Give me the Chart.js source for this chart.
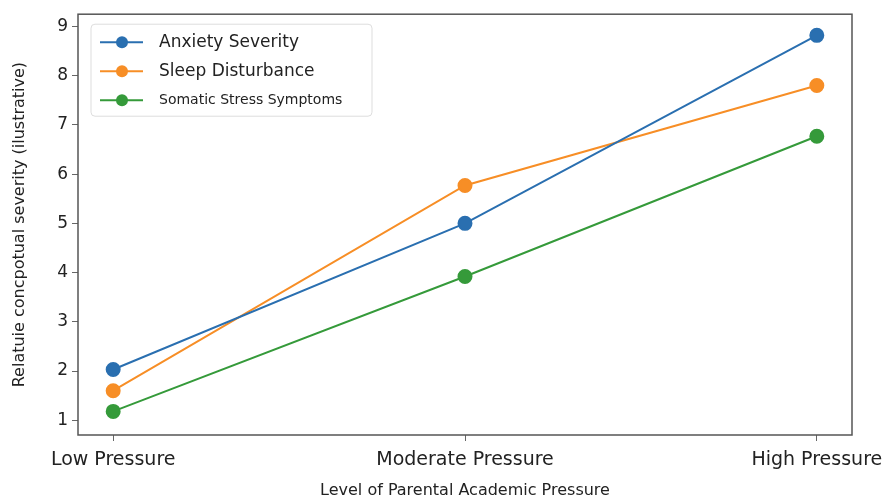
<!DOCTYPE html>
<html lang="en">
<head>
  <meta charset="UTF-8" />
  <title>Parental academic pressure</title>
  <script src="https://cdn.jsdelivr.net/npm/chart.js"></script>
  <style>
    html, body { margin: 0; padding: 0; background: #fff; }
    #wrap { width: 893px; height: 500px; position: relative; }
  </style>
</head>
<body>
  <div id="wrap"><canvas id="chart"></canvas></div>
  <script>
    const categories = ["Low Pressure", "Moderate Pressure", "High Pressure"];
    const anxiety = [2.03, 5.0, 8.82];
    const sleep = [1.6, 5.77, 7.8];
    const somatic = [1.18, 3.92, 6.77];
    const yTicks = [1, 2, 3, 4, 5, 6, 7, 8, 9];

    const colors = ["#2a6fb0", "#f78e26", "#359a3a"];
    const legendFonts = [17, 17, 14];

    Chart.defaults.font.family = "'DejaVu Sans', sans-serif";
    Chart.defaults.color = "#222";

    const toPoints = arr => arr.map((v, i) => ({ x: i, y: v }));

    // frame round the plot, like matplotlib's spines
    const frame = {
      id: "frame",
      afterDraw(chart) {
        const { ctx, chartArea: a } = chart;
        ctx.save();
        ctx.strokeStyle = "#555";
        ctx.lineWidth = 1.5;
        ctx.strokeRect(a.left, a.top, a.right - a.left, a.bottom - a.top);
        ctx.restore();
      }
    };

    // legend drawn inside the plot, upper left
    const innerLegend = {
      id: "innerLegend",
      afterDatasetsDraw(chart) {
        const { ctx, chartArea: a } = chart;
        const x0 = a.left + 13, y0 = a.top + 10;
        const w = 281, h = 92;
        ctx.save();
        ctx.fillStyle = "rgba(255,255,255,0.9)";
        ctx.strokeStyle = "#ddd";
        ctx.lineWidth = 1;
        ctx.beginPath();
        ctx.roundRect(x0, y0, w, h, 4);
        ctx.fill();
        ctx.stroke();
        chart.data.datasets.forEach((ds, i) => {
          const cy = a.top + 28 + i * 29;
          ctx.strokeStyle = ds.borderColor;
          ctx.lineWidth = 2;
          ctx.beginPath();
          ctx.moveTo(x0 + 9, cy);
          ctx.lineTo(x0 + 52, cy);
          ctx.stroke();
          ctx.fillStyle = ds.backgroundColor;
          ctx.beginPath();
          ctx.arc(x0 + 31, cy, 6, 0, Math.PI * 2);
          ctx.fill();
          ctx.fillStyle = "#222";
          ctx.font = legendFonts[i] + "px 'DejaVu Sans', sans-serif";
          ctx.textBaseline = "middle";
          ctx.fillText(ds.label, x0 + 68, cy);
        });
        ctx.restore();
      }
    };

    const makeSet = (label, data, color) => ({
      label,
      data: toPoints(data),
      borderColor: color,
      backgroundColor: color,
      borderWidth: 2,
      pointRadius: 6.5,
      pointHoverRadius: 6.5,
      tension: 0
    });

    new Chart(document.getElementById("chart"), {
      type: "line",
      data: {
        datasets: [
          makeSet("Anxiety Severity", anxiety, colors[0]),
          makeSet("Sleep Disturbance", sleep, colors[1]),
          makeSet("Somatic Stress Symptoms", somatic, colors[2])
        ]
      },
      options: {
        responsive: true,
        maintainAspectRatio: false,
        animation: false,
        layout: { padding: { top: 10, right: 41, left: 0, bottom: 0 } },
        plugins: {
          legend: { display: false },
          tooltip: { enabled: false }
        },
        scales: {
          x: {
            type: "linear",
            min: -0.1,
            max: 2.1,
            grid: { display: true, drawOnChartArea: false, drawTicks: true, tickLength: 6, tickColor: "#666" },
            border: { display: false },
            afterBuildTicks: s => { s.ticks = categories.map((c, i) => ({ value: i })); },
            afterFit: s => { s.height = 65; s.paddingLeft = 0; s.paddingRight = 0; },
            ticks: {
              autoSkip: false,
              maxRotation: 0,
              padding: 8,
              color: "#222",
              font: { size: 19 },
              callback: v => categories[v]
            },
            title: {
              display: true,
              text: "Level of Parental Academic Pressure",
              color: "#222",
              font: { size: 16 },
              padding: { top: 2, bottom: 0 }
            }
          },
          y: {
            min: 0.7,
            max: 9.25,
            grid: { display: true, drawOnChartArea: false, drawTicks: true, tickLength: 6, tickColor: "#666" },
            border: { display: false },
            afterBuildTicks: s => { s.ticks = yTicks.map(v => ({ value: v })); },
            afterFit: s => { s.width = 78; },
            ticks: {
              padding: 4,
              color: "#222",
              font: { size: 17 }
            },
            title: {
              display: true,
              text: "Relatuie concpotual severity (ilustrative)",
              color: "#222",
              font: { size: 16 },
              padding: { top: 10, bottom: 4 }
            }
          }
        }
      },
      plugins: [frame, innerLegend]
    });
  </script>
</body>
</html>
